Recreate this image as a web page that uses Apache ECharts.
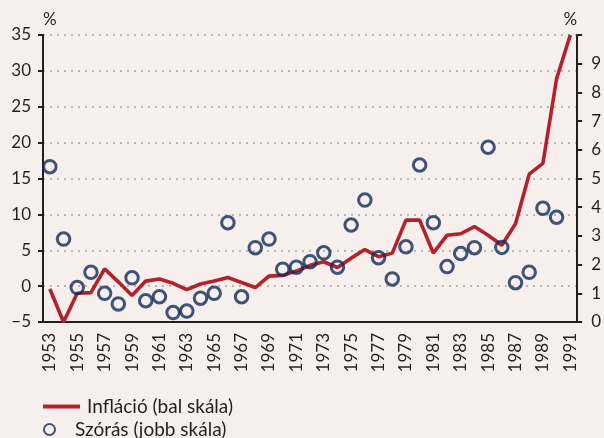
<!DOCTYPE html>
<html>
<head>
<meta charset="utf-8">
<script src="https://cdn.jsdelivr.net/npm/echarts@6/dist/echarts.min.js"></script>
<style>
  html, body { margin: 0; padding: 0; background: #f6efec; }
  #chart { width: 604px; height: 438px; }
</style>
</head>
<body>
<div id="chart"></div>
<script>
// years 1953..1991
const years = ['1953','1954','1955','1956','1957','1958','1959','1960','1961','1962',
  '1963','1964','1965','1966','1967','1968','1969','1970','1971','1972',
  '1973','1974','1975','1976','1977','1978','1979','1980','1981','1982',
  '1983','1984','1985','1986','1987','1988','1989','1990','1991']

// inflation, left axis (%)
const inflation = [-0.4, -5.0, -1.0, -0.9, 2.4, 0.6, -1.3, 0.7, 1.0, 0.4,
  -0.5, 0.3, 0.7, 1.2, 0.5, -0.2, 1.4, 1.5, 2.1, 2.9,
  3.4, 2.6, 3.9, 5.1, 4.1, 4.6, 9.2, 9.2, 4.6, 7.1,
  7.3, 8.3, 7.1, 5.7, 8.7, 15.6, 17.1, 28.9, 35.0]

// standard deviation, right axis (%)
const szoras = [5.41, 2.89, 1.20, 1.73, 1.00, 0.63, 1.54, 0.74, 0.88, 0.33,
  0.38, 0.83, 1.00, 3.46, 0.88, 2.59, 2.89, 1.84, 1.91, 2.10,
  2.41, 1.91, 3.38, 4.25, 2.24, 1.50, 2.62, 5.47, 3.46, 1.93,
  2.39, 2.59, 6.09, 2.60, 1.37, 1.73, 3.96, 3.65, null]

const font = 'Lato'
const axisColor = '#231f20'
const textColor = '#231f20'
const red = '#b3212a'
const navy = '#112c5c'

const chart = echarts.init(document.getElementById('chart'))

const legendText = { fontFamily: font, fontSize: 19, color: textColor, padding: [0, 0, 0, 2] }

chart.setOption({
  backgroundColor: '#f6efec',
  textStyle: { fontFamily: font, color: textColor },
  grid: { left: 43, right: 26, top: 35, bottom: 116 },
  legend: [
    {
      left: 43,
      top: 397,
      padding: 0,
      height: 24,
      itemWidth: 37,
      itemHeight: 4,
      icon: 'rect',
      textStyle: legendText,
      data: ['Infláció (bal skála)']
    },
    {
      left: 43,
      top: 420,
      padding: 0,
      height: 24,
      itemWidth: 37,
      itemHeight: 11,
      textStyle: legendText,
      data: ['Szórás (jobb skála)']
    }
  ],
  xAxis: {
    type: 'category',
    data: years,
    boundaryGap: true,
    axisLine: { onZero: false, lineStyle: { color: axisColor, width: 2 } },
    axisTick: { interval: 0, length: 5, lineStyle: { color: axisColor, width: 2 } },
    axisLabel: {
      interval: 1,
      rotate: 90,
      margin: 11,
      fontFamily: font,
      fontSize: 17,
      color: textColor
    },
    splitLine: { show: false }
  },
  yAxis: [
    {
      type: 'value',
      min: -5,
      max: 35,
      interval: 5,
      name: '%',
      nameGap: 7,
      nameTextStyle: { align: 'left', fontFamily: font, fontSize: 17, color: textColor },
      axisLine: { show: true, lineStyle: { color: axisColor, width: 2 } },
      axisTick: { show: true, length: 5, lineStyle: { color: axisColor, width: 2 } },
      axisLabel: {
        margin: 12,
        fontFamily: font,
        fontSize: 17,
        color: textColor,
        formatter: v => (v < 0 ? '\u2212' + Math.abs(v) : String(v))
      },
      splitLine: {
        show: true,
        lineStyle: { color: '#a3a3a3', width: 1.5, type: [2, 5] }
      }
    },
    {
      type: 'value',
      min: 0,
      max: 10,
      interval: 1,
      position: 'right',
      name: '%',
      nameGap: 7,
      nameTextStyle: { align: 'right', fontFamily: font, fontSize: 17, color: textColor },
      axisLine: { show: true, lineStyle: { color: axisColor, width: 2 } },
      axisTick: { show: true, length: 5, lineStyle: { color: axisColor, width: 2 } },
      axisLabel: {
        margin: 14,
        fontFamily: font,
        fontSize: 17,
        color: textColor,
        formatter: v => (v === 10 ? '' : String(v))
      },
      splitLine: { show: false }
    }
  ],
  series: [
    {
      name: 'Infláció (bal skála)',
      type: 'line',
      yAxisIndex: 0,
      data: inflation,
      symbol: 'none',
      lineStyle: { color: red, width: 3.6 },
      itemStyle: { color: red },
      z: 2
    },
    {
      name: 'Szórás (jobb skála)',
      type: 'scatter',
      yAxisIndex: 1,
      data: szoras,
      symbol: 'circle',
      symbolSize: 12.5,
      itemStyle: { color: 'rgba(0,0,0,0)', borderColor: navy, borderWidth: 3 },
      z: 3
    }
  ]
})
</script>
</body>
</html>
